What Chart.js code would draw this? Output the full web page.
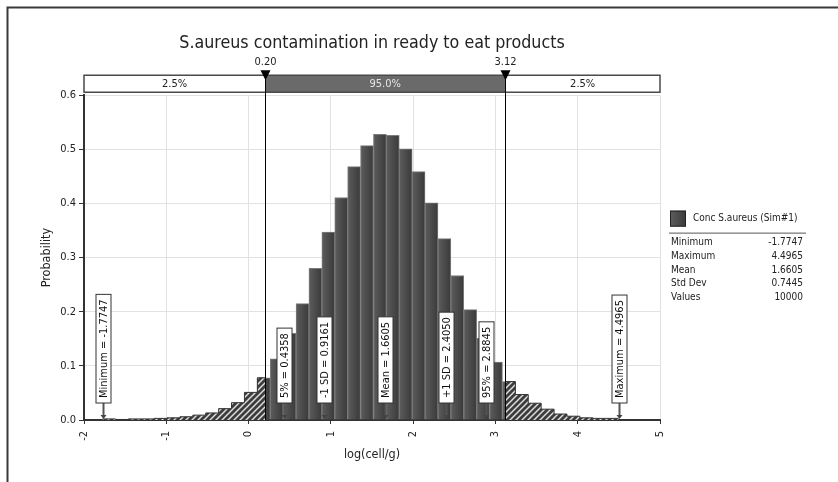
<!DOCTYPE html>
<html>
<head>
<meta charset="utf-8">
<script src="https://cdn.jsdelivr.net/npm/chart.js@4.4.1/dist/chart.umd.min.js"></script>
<style>
  html, body { margin: 0; padding: 0; background: #fff; }
  #wrap { position: relative; width: 838px; height: 482px; }
  canvas { display: block; }
</style>
</head>
<body>
<div id="wrap"><canvas id="c" width="838" height="482"></canvas></div>
<script>
// ---------------- DATA ----------------
const chartTitle = 'S.aureus contamination in ready to eat products';
const xAxisTitle = 'log(cell/g)';
const yAxisTitle = 'Probability';
const binMin = -1.7747;
const binMax = 4.4965;
const binCount = 40;
// probability density per bin
const density = [
  0.002, 0.001, 0.002, 0.002, 0.003, 0.004, 0.006, 0.009, 0.013, 0.021,
  0.032, 0.051, 0.078, 0.113, 0.160, 0.215, 0.280, 0.347, 0.411, 0.468,
  0.507, 0.528, 0.526, 0.501, 0.459, 0.401, 0.335, 0.267, 0.204, 0.151,
  0.107, 0.071, 0.047, 0.031, 0.020, 0.011, 0.007, 0.004, 0.003, 0.003
];
const delimiters = [0.20, 3.12];
const delimiterLabels = ['0.20', '3.12'];
const sectionLabels = ['2.5%', '95.0%', '2.5%'];
const markerLabels = ['Minimum = -1.7747', '5% = 0.4358', '-1 SD = 0.9161', 'Mean = 1.6605', '+1 SD = 2.4050', '95% = 2.8845', 'Maximum = 4.4965'];
const markerValues = [-1.7747, 0.4358, 0.9161, 1.6605, 2.4050, 2.8845, 4.4965];
const legendTitle = 'Conc S.aureus (Sim#1)';
const statLabels = ['Minimum', 'Maximum', 'Mean', 'Std Dev', 'Values'];
const statValues = ['-1.7747', '4.4965', '1.6605', '0.7445', '10000'];
const xTicksRange = [-2, 5];
const yTicksRange = [0, 0.6];

// ---------------- BUILD ----------------
const FONT = "'DejaVu Sans Condensed', 'DejaVu Sans', sans-serif";
const binW = (binMax - binMin) / binCount;
const edges = [];
for (let k = 0; k <= binCount; k++) edges.push(binMin + k * binW);

const lo = delimiters[0], hi = delimiters[1];
const solidBars = [];
const leftHatch = [];
const rightHatch = [];
for (let k = 0; k < binCount; k++) {
  const a = edges[k], b = edges[k + 1];
  if (b > lo && a < hi) solidBars.push({ x: (a + b) / 2, y: density[k] });
  if (a < lo) leftHatch.push({ x: a, y: density[k] });
  if (b > hi) rightHatch.push({ x: Math.max(a, hi), y: density[k] });
}
leftHatch.push({ x: lo, y: leftHatch[leftHatch.length - 1].y });
rightHatch.push({ x: edges[binCount], y: rightHatch[rightHatch.length - 1].y });

function makeHatch() {
  const s = 6;
  const c = document.createElement('canvas');
  c.width = s; c.height = s;
  const g = c.getContext('2d');
  g.fillStyle = '#3c3c3c';
  g.fillRect(0, 0, s, s);
  g.strokeStyle = '#dcdcdc';
  g.lineWidth = 1.5;
  g.beginPath();
  g.moveTo(-1, s + 1); g.lineTo(s + 1, -1);
  g.moveTo(-s / 2 - 1, s / 2 + 1); g.lineTo(s / 2 + 1, -s / 2 - 1);
  g.moveTo(s / 2 - 1, s * 1.5 + 1); g.lineTo(s * 1.5 + 1, s / 2 - 1);
  g.stroke();
  return g.createPattern(c, 'repeat');
}
const hatch = makeHatch();

const framePlugin = {
  id: 'frame',
  beforeDraw(chart) {
    const ctx = chart.ctx;
    ctx.save();
    ctx.fillStyle = '#fff';
    ctx.fillRect(0, 0, chart.width, chart.height);
    ctx.strokeStyle = '#3a3a3a';
    ctx.lineWidth = 2;
    ctx.beginPath();
    ctx.moveTo(7.5, chart.height);
    ctx.lineTo(7.5, 7.5);
    ctx.lineTo(chart.width, 7.5);
    ctx.stroke();
    ctx.restore();
  }
};

const overlayPlugin = {
  id: 'overlay',
  afterDatasetsDraw(chart) {
    const ctx = chart.ctx;
    const xs = chart.scales.x, ys = chart.scales.y;
    const ca = chart.chartArea;
    const y0 = ys.getPixelForValue(0);
    ctx.save();

    // ---- top band with percentage sections
    const bTop = ca.top - 20, bH = 17;
    const xd = delimiters.map(v => xs.getPixelForValue(v));
    const secs = [[ca.left, xd[0]], [xd[0], xd[1]], [xd[1], ca.right]];
    secs.forEach((s, i) => {
      ctx.fillStyle = i === 1 ? '#6a6a6a' : '#ffffff';
      ctx.fillRect(s[0], bTop, s[1] - s[0], bH);
      ctx.fillStyle = i === 1 ? '#e6e6e6' : '#222';
      ctx.font = '11px ' + FONT;
      ctx.textAlign = 'center';
      ctx.textBaseline = 'middle';
      ctx.fillText(sectionLabels[i], (s[0] + s[1]) / 2, bTop + bH / 2 + 0.5);
    });
    ctx.strokeStyle = '#4a4a4a';
    ctx.lineWidth = 1.5;
    ctx.strokeRect(ca.left, bTop, ca.right - ca.left, bH);

    // ---- delimiter lines, triangles and labels
    xd.forEach((px, i) => {
      const x = Math.round(px) + 0.5;
      ctx.strokeStyle = '#000';
      ctx.lineWidth = 1;
      ctx.beginPath();
      ctx.moveTo(x, bTop - 4);
      ctx.lineTo(x, y0);
      ctx.stroke();
      ctx.fillStyle = '#000';
      ctx.beginPath();
      ctx.moveTo(x - 5, bTop - 5);
      ctx.lineTo(x + 5, bTop - 5);
      ctx.lineTo(x, bTop + 5);
      ctx.closePath();
      ctx.fill();
      ctx.fillStyle = '#222';
      ctx.font = '11px ' + FONT;
      ctx.textAlign = 'center';
      ctx.textBaseline = 'middle';
      ctx.fillText(delimiterLabels[i], x, bTop - 13);
    });

    // ---- statistic markers
    ctx.font = '11px ' + FONT;
    markerValues.forEach((v, i) => {
      const x = Math.round(xs.getPixelForValue(v)) + 0.5;
      const tw = ctx.measureText(markerLabels[i]).width;
      const boxB = y0 - 17;
      const boxH = tw + 10;
      const boxW = 15;
      // arrow
      ctx.strokeStyle = '#555';
      ctx.lineWidth = 2;
      ctx.beginPath();
      ctx.moveTo(x, boxB);
      ctx.lineTo(x, y0 - 3);
      ctx.stroke();
      ctx.fillStyle = '#444';
      ctx.beginPath();
      ctx.moveTo(x - 3, y0 - 5);
      ctx.lineTo(x + 3, y0 - 5);
      ctx.lineTo(x, y0 - 1);
      ctx.closePath();
      ctx.fill();
      // box
      ctx.fillStyle = '#fff';
      ctx.fillRect(x - boxW / 2, boxB - boxH, boxW, boxH);
      ctx.strokeStyle = '#333';
      ctx.lineWidth = 1;
      ctx.strokeRect(x - boxW / 2, boxB - boxH, boxW, boxH);
      // text
      ctx.save();
      ctx.translate(x, boxB - boxH / 2);
      ctx.rotate(-Math.PI / 2);
      ctx.fillStyle = '#111';
      ctx.textAlign = 'center';
      ctx.textBaseline = 'middle';
      ctx.fillText(markerLabels[i], 0, 0.5);
      ctx.restore();
    });

    // ---- legend / statistics panel
    const lx = ca.right + 10;
    const ly = ys.getPixelForValue(0.3) - 47;
    const sg = ctx.createLinearGradient(lx, 0, lx + 16, 0);
    sg.addColorStop(0, '#5e5e5e');
    sg.addColorStop(1, '#3a3a3a');
    ctx.fillStyle = sg;
    ctx.fillRect(lx, ly, 16, 16);
    ctx.strokeStyle = '#222';
    ctx.lineWidth = 1;
    ctx.strokeRect(lx + 0.5, ly + 0.5, 15, 15);
    ctx.fillStyle = '#222';
    ctx.font = '10px ' + FONT;
    ctx.textAlign = 'left';
    ctx.textBaseline = 'middle';
    ctx.fillText(legendTitle, lx + 23, ly + 8);
    ctx.strokeStyle = '#555';
    ctx.beginPath();
    ctx.moveTo(lx - 1, ly + 22.5);
    ctx.lineTo(lx + 136, ly + 22.5);
    ctx.stroke();
    statLabels.forEach((lab, i) => {
      const yy = ly + 32 + i * 13.7;
      ctx.textAlign = 'left';
      ctx.fillText(lab, lx + 1, yy);
      ctx.textAlign = 'right';
      ctx.fillText(statValues[i], lx + 133, yy);
    });

    ctx.restore();
  }
};

const chart = new Chart(document.getElementById('c'), {
  type: 'bar',
  data: {
    datasets: [
      {
        type: 'line',
        label: 'left tail',
        data: leftHatch,
        stepped: 'before',
        fill: 'origin',
        backgroundColor: hatch,
        borderColor: '#333',
        borderWidth: 1,
        pointRadius: 0
      },
      {
        type: 'line',
        label: 'right tail',
        data: rightHatch,
        stepped: 'before',
        fill: 'origin',
        backgroundColor: hatch,
        borderColor: '#333',
        borderWidth: 1,
        pointRadius: 0
      },
      {
        type: 'bar',
        label: legendTitle,
        data: solidBars,
        barPercentage: 1,
        categoryPercentage: 1,
        borderSkipped: 'bottom',
        borderWidth: 1,
        borderColor: 'rgba(110,110,110,0.9)',
        backgroundColor: (ctx) => {
          const ch = ctx.chart;
          const xs = ch.scales && ch.scales.x;
          if (!xs || ctx.type !== 'data' || !ctx.raw) return '#4a4a4a';
          const l = xs.getPixelForValue(ctx.raw.x - binW / 2);
          const r = xs.getPixelForValue(ctx.raw.x + binW / 2);
          if (!isFinite(l) || !isFinite(r)) return '#4a4a4a';
          const g = ch.ctx.createLinearGradient(l, 0, r, 0);
          g.addColorStop(0, '#5c5c5c');
          g.addColorStop(1, '#3a3a3a');
          return g;
        }
      }
    ]
  },
  options: {
    responsive: false,
    animation: false,
    layout: { padding: { left: 0, right: 178, top: 0, bottom: 0 } },
    plugins: {
      legend: { display: false },
      tooltip: { enabled: false },
      title: {
        display: true,
        text: chartTitle,
        fullSize: false,
        color: '#222',
        font: { family: FONT, size: 17.7, weight: 'normal' },
        padding: { top: 33, bottom: 41 }
      }
    },
    scales: {
      x: {
        type: 'linear',
        min: xTicksRange[0],
        max: xTicksRange[1],
        offset: false,
        grid: { offset: false, color: '#e2e2e2', tickColor: '#333', tickLength: 4, drawTicks: true },
        border: { color: '#333', width: 2 },
        ticks: {
          stepSize: 1,
          minRotation: 90,
          maxRotation: 90,
          padding: 7,
          color: '#222',
          font: { family: FONT, size: 11 },
          callback: (v) => String(v)
        },
        title: {
          display: true,
          text: xAxisTitle,
          color: '#222',
          font: { family: FONT, size: 12.5 },
          padding: { top: 0, bottom: 20 }
        },
        afterFit: (s) => { s.height = 62; }
      },
      y: {
        type: 'linear',
        min: yTicksRange[0],
        max: yTicksRange[1],
        grid: { color: '#e2e2e2', tickColor: '#333', tickLength: 5 },
        border: { color: '#333', width: 2 },
        ticks: {
          stepSize: 0.1,
          padding: 3,
          color: '#222',
          font: { family: FONT, size: 11 },
          callback: (v) => Number(v).toFixed(1)
        },
        title: {
          display: true,
          text: yAxisTitle,
          color: '#222',
          font: { family: FONT, size: 12.5 },
          padding: { top: 39, bottom: 0 }
        },
        afterFit: (s) => { s.width = 84; }
      }
    }
  },
  plugins: [framePlugin, overlayPlugin]
});
</script>
</body>
</html>
